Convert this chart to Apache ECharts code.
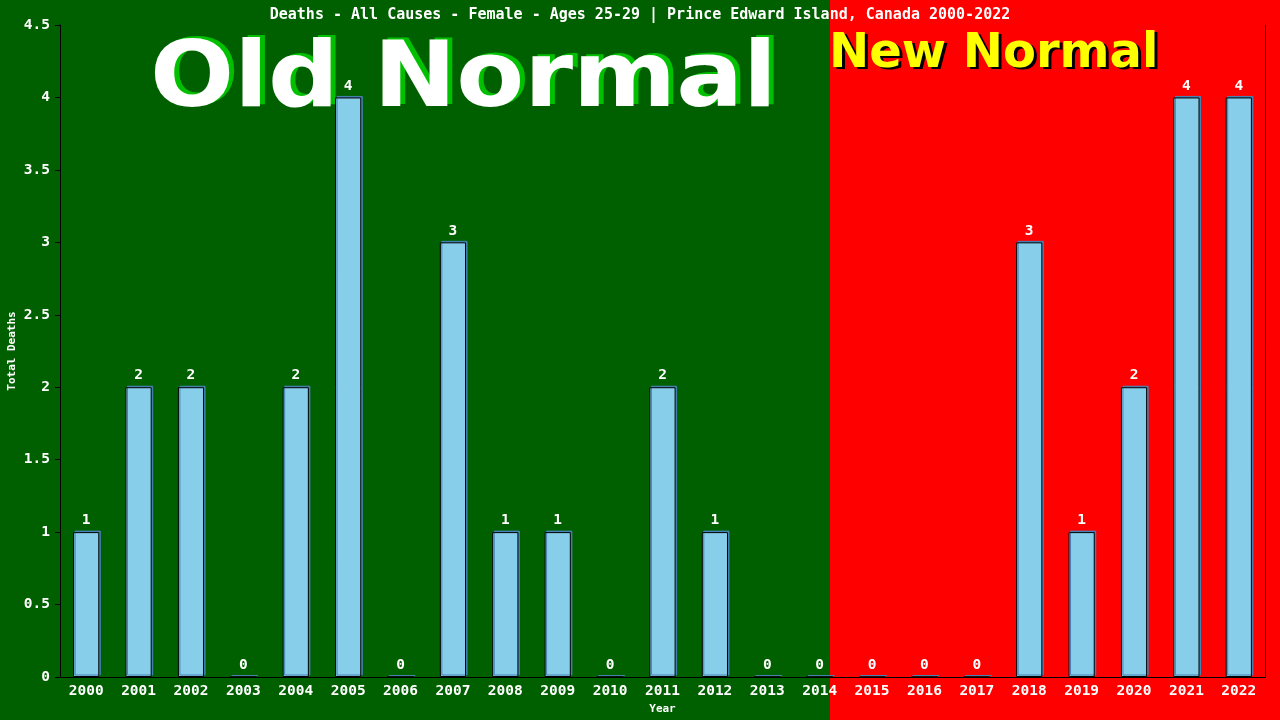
<!DOCTYPE html>
<html><head><meta charset="utf-8">
<script src="https://cdn.jsdelivr.net/npm/echarts@6/dist/echarts.min.js"></script>
<style>html,body{margin:0;padding:0;background:#006000}#c{width:1280px;height:720px}</style>
</head><body><div id="c"></div>
<script>
const years = ['2000','2001','2002','2003','2004','2005','2006','2007','2008','2009','2010','2011','2012','2013','2014','2015','2016','2017','2018','2019','2020','2021','2022'];
const deaths = [1,2,2,0,2,4,0,3,1,1,0,2,1,0,0,0,0,0,3,1,2,4,4];
const yTicks = {min:0, max:4.5, interval:0.5};
const titleText = 'Deaths - All Causes - Female - Ages 25-29 | Prince Edward Island, Canada 2000-2022';

const mono = 'DejaVu Sans Mono';
const bigFont = 'bold 90px "DejaVu Sans"';
const chart = echarts.init(document.getElementById('c'));
chart.setOption({
  animation:false,
  backgroundColor:'#006000',
  title:{text:titleText,left:'center',top:3,textStyle:{color:'#fff',fontFamily:mono,fontSize:15,fontWeight:'bold'}},
  graphic:[
    {type:'rect',z:-10,shape:{x:0,y:0,width:830,height:720},style:{fill:'#006000'},silent:true},
    {type:'rect',z:-10,shape:{x:830,y:0,width:450,height:720},style:{fill:'#ff0000'},silent:true},
    {type:'text',z:-6,x:155,y:36,scaleX:1.1,style:{text:'Old Normal',fill:'#00c000',font:bigFont}},
    {type:'text',z:-5,x:150,y:38,scaleX:1.1,style:{text:'Old Normal',fill:'#ffffff',font:bigFont}},
    {type:'text',z:-6,x:832,y:33,style:{text:'New Normal',fill:'#000000',font:'bold 48px "DejaVu Sans"'}},
    {type:'text',z:-5,x:829,y:31,style:{text:'New Normal',fill:'#ffff00',font:'bold 48px "DejaVu Sans"'}}
  ],
  grid:{left:60,right:15,top:25,bottom:43,containLabel:false,outerBoundsMode:'none'},
  xAxis:{type:'category',data:years,name:'Year',nameLocation:'middle',nameGap:26,
    nameTextStyle:{color:'#fff',fontFamily:mono,fontSize:11,fontWeight:'bold'},
    axisLine:{lineStyle:{color:'#000'}},axisTick:{show:false},
    axisLabel:{color:'#fff',fontFamily:mono,fontSize:14.5,fontWeight:'bold',margin:7,interval:0}},
  yAxis:[{type:'value',min:yTicks.min,max:yTicks.max,interval:yTicks.interval,name:'Total Deaths',nameLocation:'middle',nameGap:42,nameMoveOverlap:false,
    nameTextStyle:{color:'#fff',fontFamily:mono,fontSize:11,fontWeight:'bold'},
    splitLine:{show:false},axisLine:{show:true,lineStyle:{color:'#000'}},
    axisTick:{show:true,length:5,lineStyle:{color:'#000'}},
    axisLabel:{color:'#fff',fontFamily:mono,fontSize:14.5,fontWeight:'bold',margin:10}},
    {type:'value',position:'right',min:yTicks.min,max:yTicks.max,interval:yTicks.interval,splitLine:{show:false},axisLine:{show:true,lineStyle:{color:'#000'}},axisTick:{show:false},axisLabel:{show:false}}],
  series:[{type:'bar',data:deaths,barWidth:'50%',
    itemStyle:{color:'#87ceeb',borderColor:'#000',borderWidth:1,shadowColor:'#4682b4',shadowOffsetX:1.5,shadowOffsetY:-1.5,shadowBlur:0},
    label:{show:true,position:'top',distance:4,color:'#fff',fontFamily:mono,fontSize:14.5,fontWeight:'bold'}}]
});
</script></body></html>
